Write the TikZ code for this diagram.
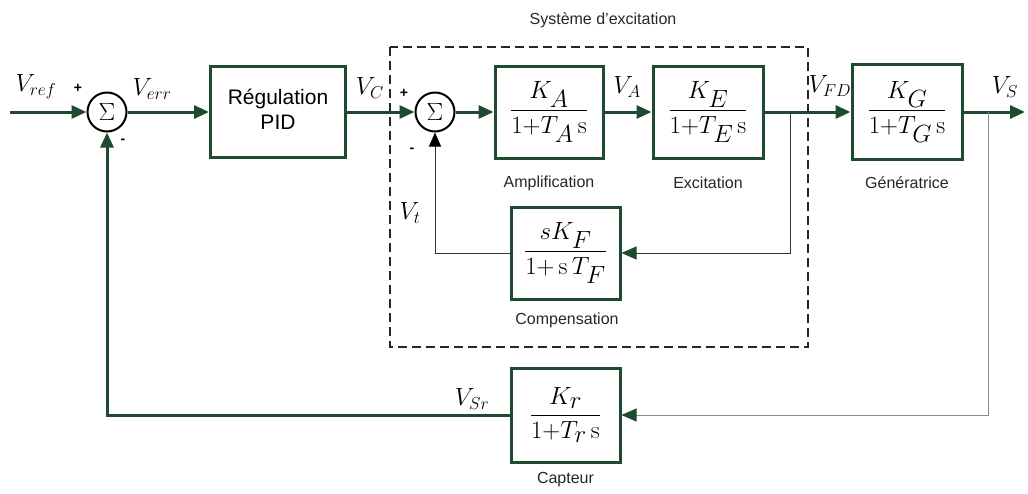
\documentclass[tikz,border=0pt]{standalone}
\usepackage{amsmath}
\usepackage[no-math]{fontspec}
\setmainfont{Liberation Sans}
\usepackage{tikz}
\usepackage{xcolor}
\usetikzlibrary{calc}
\usetikzlibrary{arrows.meta}

\definecolor{dkgreen}{HTML}{1E4A30}
\newcommand{\lap}{\mathrm{s}}

\tikzset{
  blk/.style={draw=dkgreen,line width=3pt,rectangle,inner sep=0pt,font=\fontsize{35}{38}\selectfont},
  sumnode/.style={circle,draw=black,line width=2pt,minimum size=39pt,inner sep=0pt,font=\fontsize{28}{30}\selectfont},
  sig/.style={dkgreen,line width=3pt,-{Triangle[length=15pt,width=13pt]}},
  lbl/.style={font=\fontsize{16}{18}\selectfont,text=black!85},
  vlbl/.style={font=\fontsize{27}{29}\selectfont},
  sgn/.style={font=\bfseries\fontsize{14}{16}\selectfont}
}

\begin{document}
\begin{tikzpicture}[x=1pt,y=-1pt]
\useasboundingbox (0,0) rectangle (1028,493);

% dashed frame of the excitation system
\draw[line width=1.5pt,dash pattern=on 9pt off 5pt,black!85] (390,47) rectangle (808,347);
\node[lbl] (titre) at (603,20) {Système d'excitation};

% summing points
\node[sumnode] (s1) at (107,112) {$\Sigma$};
\node[sumnode] (s2) at (435,112) {$\Sigma$};

% blocks
\node[blk,minimum width=135pt,minimum height=91pt,font=\fontsize{21}{25}\selectfont] (pid) at (278,112) {\begin{tabular}{c}Régulation\\PID\end{tabular}};
\node[blk,minimum width=108pt,minimum height=92pt] (amp) at (549,112) {$\dfrac{K_A}{1{+}T_A\,\lap}$};
\node[blk,minimum width=110pt,minimum height=92pt] (exc) at (708,112) {$\dfrac{K_E}{1{+}T_E\,\lap}$};
\node[blk,minimum width=110pt,minimum height=95pt] (gen) at (907,112) {$\dfrac{K_G}{1{+}T_G\,\lap}$};
\node[blk,minimum width=109pt,minimum height=92pt] (comp) at (565.5,253) {$\dfrac{sK_F}{1{+}\,\lap\,T_F}$};
\node[blk,minimum width=109pt,minimum height=94pt] (capt) at (565.5,415) {$\dfrac{K_r}{1{+}T_r\,\lap}$};

% block names
\node[lbl] (namp) at (549,183) {Amplification};
\node[lbl] (nexc) at (708,183) {Excitation};
\node[lbl] (ngen) at (907,183) {Génératrice};
\node[lbl] (ncomp) at (567,320) {Compensation};
\node[lbl] (ncapt) at (565.5,480) {Capteur};

% free ends and branch points
\coordinate (in) at (10,112);
\coordinate (out) at (1025,112);
\coordinate (b1) at (790,112);
\coordinate (b2) at (988,112);

% forward path
\draw[sig] (in) -- (s1);
\draw[sig] (s1) -- (pid);
\draw[sig] (pid) -- (s2);
\draw[sig] (s2) -- (amp);
\draw[sig] (amp) -- (exc);
\draw[sig] (exc) -- (gen);
\draw[sig] (gen) -- (out);

% feedback loops
\draw[line width=1pt,black!80,-{Triangle[length=15pt,width=13pt,color=dkgreen]}] (b1) |- (comp);
\draw[line width=1pt,black!80,-{Triangle[length=14pt,width=12pt,color=black]}] (comp) -| (s2);
\draw[line width=0.8pt,black!45,-{Triangle[length=15pt,width=13pt,color=dkgreen]}] (b2) |- (capt);
\draw[sig] (capt) -| (s1);

% signal names
\node[vlbl] (vref) at (36,87) {$V_{ref}$};
\node[vlbl] (verr) at (152,89) {$V_{err}$};
\node[vlbl] (vc) at (370,88) {$V_C$};
\node[vlbl] (va) at (627,87) {$V_A$};
\node[vlbl] (vfd) at (830,86) {$V_{FD}$};
\node[vlbl] (vs) at (1005,87) {$V_S$};
\node[vlbl] (vt) at (410,213) {$V_t$};
\node[vlbl] (vsr) at (472,399) {$V_{Sr}$};

% signs
\node[sgn] (p1) at (78,88) {+};
\node[sgn] (m1) at (123,141) {-};
\node[sgn] (p2) at (404,93) {+};
\node[sgn] (m2) at (412,150) {-};

\end{tikzpicture}
\end{document}
